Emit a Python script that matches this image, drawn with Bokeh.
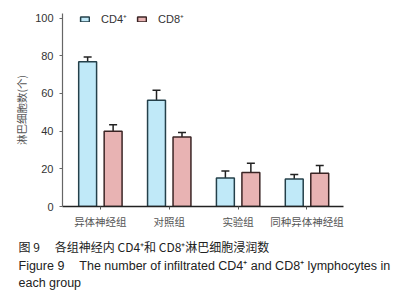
from bokeh.plotting import figure
from bokeh.models import (ColumnDataSource, Range1d, FixedTicker, Whisker, TeeHead,
                          Legend, LegendItem, Title)
from bokeh.embed import file_html
from bokeh.resources import INLINE

groups = ["异体神经组", "对照组", "实验组", "同种异体神经组"]
cd4 = [76.8, 56.4, 15.1, 14.6]
cd4_err = [2.5, 5.3, 3.7, 2.4]
cd8 = [39.9, 36.9, 18.1, 17.6]
cd8_err = [3.5, 2.3, 4.9, 4.2]
y_ticks = [0, 20, 40, 60, 80, 100]
caption = [
    "图 9\u3000\u2005各组神经内 CD4⁺和 CD8⁺淋巴细胞浸润数",
    "Figure 9\u2003\u2009The number of infiltrated CD4⁺ and CD8⁺ lymphocytes in",
    "each group",
]

W, H = 393, 300
L, R, T, B = 62, 343, 13, 206
x0, x1 = -0.55, 3.53
y0, y1 = 0, 102.4

p = figure(width=W, height=H, output_backend="svg", toolbar_location=None,
           x_range=Range1d(x0, x1), y_range=Range1d(y0, y1),
           min_border_left=L, min_border_right=W - R, min_border_top=T,
           min_border_bottom=H - B, background_fill_color="white",
           border_fill_color="white", outline_line_color=None)
p.grid.visible = False

xs = list(range(len(groups)))
off = 0.185
bw = 0.26
src4 = ColumnDataSource(dict(x=[i - off for i in xs], top=cd4,
                             up=[v + e for v, e in zip(cd4, cd4_err)]))
src8 = ColumnDataSource(dict(x=[i + off for i in xs], top=cd8,
                             up=[v + e for v, e in zip(cd8, cd8_err)]))

for src in (src4, src8):
    w = Whisker(source=src, base="x", lower="top", upper="up", dimension="height",
                line_color="#222222", line_width=1.5, lower_head=None,
                upper_head=TeeHead(size=8, line_color="#222222", line_width=1.5))
    p.add_layout(w)

r4 = p.vbar(x="x", top="top", width=bw, bottom=0, source=src4,
            fill_color="#c0e9f8", line_color="#24404a", line_width=1.5)
r8 = p.vbar(x="x", top="top", width=bw, bottom=0, source=src8,
            fill_color="#e8b3b3", line_color="#3a2424", line_width=1.5)

legend = Legend(items=[LegendItem(label="CD4⁺", renderers=[r4]),
                       LegendItem(label="CD8⁺", renderers=[r8])],
                orientation="horizontal", location=(17, 180),
                glyph_width=11, glyph_height=6, label_text_font="Liberation Sans",
                label_text_font_size="11px", label_text_color="#333333",
                background_fill_alpha=0, border_line_color=None,
                spacing=9, padding=0, margin=0, label_standoff=11,
                label_height=10, label_width=10)
p.add_layout(legend, "center")

# axes
p.xaxis.ticker = FixedTicker(ticks=xs)
p.xaxis.major_label_overrides = {i: g for i, g in zip(xs, groups)}
p.xaxis.major_label_text_font = "Noto Sans CJK SC"
p.xaxis.major_label_text_font_size = "10.5px"
p.xaxis.major_label_text_color = "#555555"
p.xaxis.major_tick_in = 0
p.xaxis.major_tick_out = 3
p.xaxis.minor_tick_line_color = None
p.xaxis.axis_line_color = "#222222"
p.xaxis.axis_line_width = 1.5
p.xaxis.major_tick_line_color = "#555555"
p.xaxis.major_label_standoff = 4

p.yaxis.ticker = FixedTicker(ticks=y_ticks)
p.yaxis.major_label_text_font = "Liberation Sans"
p.yaxis.major_label_text_font_size = "11px"
p.yaxis.major_label_text_color = "#333333"
p.yaxis.major_tick_in = 0
p.yaxis.major_tick_out = 3
p.yaxis.minor_tick_line_color = None
p.yaxis.axis_line_color = "#666666"
p.yaxis.axis_line_width = 1.2
p.yaxis.major_tick_line_color = "#666666"
p.yaxis.major_label_standoff = 6
p.yaxis.axis_label = "淋巴细胞数(个)"
p.yaxis.axis_label_text_font = "Noto Sans CJK SC"
p.yaxis.axis_label_text_font_size = "10.5px"
p.yaxis.axis_label_text_font_style = "normal"
p.yaxis.axis_label_text_color = "#555555"
p.yaxis.axis_label_standoff = 3

# caption lines as titles stacked below the x axis
cap_fonts = ["Noto Sans CJK SC", "Liberation Sans", "Liberation Sans"]
cap_sizes = ["12px", "12.5px", "12.5px"]
cap_standoffs = [8, -4, 6]
for txt, fnt, fs, so in zip(caption, cap_fonts, cap_sizes, cap_standoffs):
    p.add_layout(Title(text=txt, align="left", offset=18 - L,
                       text_font=fnt, text_font_size=fs, text_font_style="normal",
                       text_color="#222222", standoff=so,
                       text_line_height=1.0), "below")

open("out.html", "w").write(file_html(p, INLINE))
